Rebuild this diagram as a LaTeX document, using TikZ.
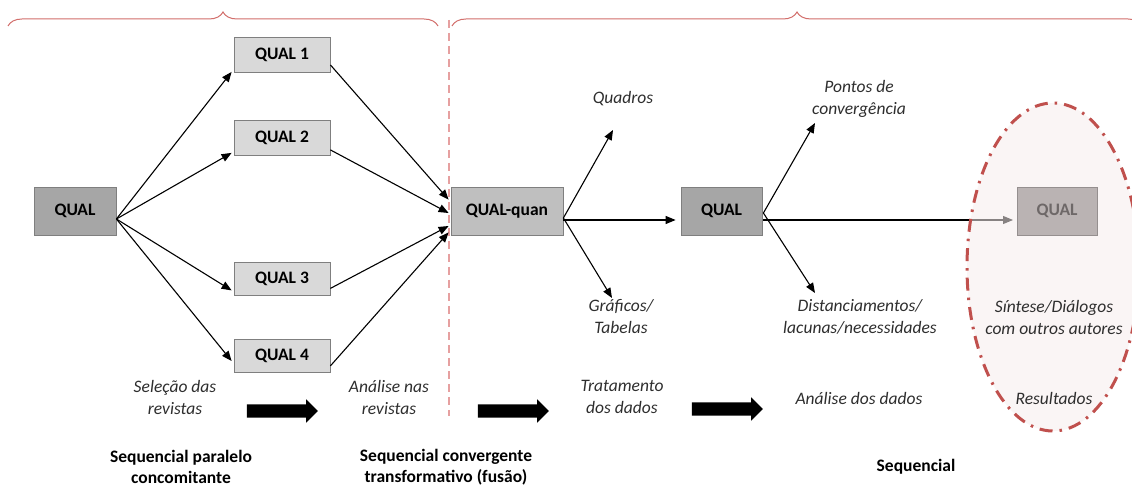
\documentclass[tikz,border=0pt]{standalone}
\usepackage{fontspec}
\setmainfont{Carlito}
\usetikzlibrary{arrows.meta,shapes.arrows,shapes.geometric,decorations.pathreplacing,calc}
\definecolor{boxline}{HTML}{7F7F7F}
\definecolor{darkfill}{HTML}{A6A6A6}
\definecolor{lightfill}{HTML}{D9D9D9}
\definecolor{midfill}{HTML}{BFBFBF}
\definecolor{fadefill}{HTML}{BAB3B3}
\definecolor{fadetext}{HTML}{6E6868}
\definecolor{bracered}{HTML}{D26E6B}
\definecolor{dashred}{HTML}{E6A0A0}
\definecolor{ellred}{HTML}{C0504D}
\definecolor{ellfill}{HTML}{F7EEEE}
\definecolor{itgray}{HTML}{2E2E2E}
\begin{document}
\begin{tikzpicture}[x=1pt,y=-1pt,
  qbox/.style={draw=boxline, line width=0.8pt, inner sep=0pt, font=\fontsize{17.5}{22}\selectfont\bfseries, text=black},
  itlabel/.style={align=center, text=itgray, font=\fontsize{17.5}{22}\selectfont\itshape, inner sep=0pt},
  bdlabel/.style={align=center, text=black, font=\fontsize{17.5}{21.5}\selectfont\bfseries, inner sep=0pt},
  conn/.style={draw=black, line width=1.1pt, -{Triangle[length=10pt,width=8pt]}},
  blockarrow/.style={single arrow, fill=black, draw=none, inner sep=6.5pt, minimum height=71pt, single arrow head extend=5pt},
  bracestyle/.style={draw=bracered, line width=1pt, decorate, decoration={brace, amplitude=14pt}},
]
\useasboundingbox (0,0) rectangle (1132,486);
\fill[white] (0,0) rectangle (1132,486);

% braces and divider
\draw[bracestyle] (8,26) -- (438,26);
\draw[bracestyle] (452,26) -- (1142,26);
\coordinate (dtop) at (449,20);
\coordinate (dbot) at (449,416);
\draw[dashred, line width=1.1pt, dash pattern=on 8pt off 5pt] (dtop) -- (dbot);

% boxes
\node[qbox, fill=darkfill, minimum width=82pt, minimum height=48pt] (qa) at (75,211) {QUAL};
\node[qbox, fill=lightfill, minimum width=96pt, minimum height=35pt] (q1) at (282,55) {QUAL 1};
\node[qbox, fill=lightfill, minimum width=96pt, minimum height=35pt] (q2) at (282,138) {QUAL 2};
\node[qbox, fill=lightfill, minimum width=96pt, minimum height=33pt] (q3) at (282,278.5) {QUAL 3};
\node[qbox, fill=lightfill, minimum width=96pt, minimum height=33pt] (q4) at (282,356) {QUAL 4};
\node[qbox, fill=midfill, minimum width=112pt, minimum height=48pt] (qq) at (507,211) {QUAL-quan};
\node[qbox, fill=darkfill, minimum width=81pt, minimum height=48pt] (qm) at (721.5,211) {QUAL};

% connectors left part
\draw[conn] ($(qa.east)+(0,8)$) -- ($(q1.south west)+(-2,-1)$);
\draw[conn] ($(qa.east)+(0,8)$) -- ($(q2.south west)+(-2,-3)$);
\draw[conn] ($(qa.east)+(0,8)$) -- ($(q3.south west)+(-2,-5)$);
\draw[conn] ($(qa.east)+(0,8)$) -- ($(q4.west)+(-2,5)$);
\draw[conn] ($(q1.south east)+(0,-8)$) -- ($(qq.north west)+(-2,13)$);
\draw[conn] ($(q2.south east)+(0,-6)$) -- ($(qq.west)+(-2,2)$);
\draw[conn] ($(q3.south east)+(0,-7)$) -- ($(qq.west)+(-2,15)$);
\draw[conn] ($(q4.south east)+(0,-7)$) -- ($(qq.south west)+(-2,-3)$);

% right part connectors
\coordinate (tquad) at (613,130);
\coordinate (tgraf) at (612,298);
\coordinate (tpont) at (815,123);
\coordinate (tdist) at (815,293);
\draw[conn] ($(qq.east)+(0,7)$) -- (tquad);
\draw[conn] ($(qq.east)+(0,7)$) -- (tgraf);
\draw[conn] ($(qq.east)+(0,9)$) -- ($(qm.west)+(-5,9)$);
\draw[conn] ($(qm.east)+(1,2)$) -- (tpont);
\draw[conn] ($(qm.east)+(1,2)$) -- (tdist);
\coordinate (qrw) at (1013,220);
\draw[conn] ($(qm.east)+(1,9)$) -- (qrw);

% ellipse
\node[ellipse, draw=ellred, line width=3pt, fill=ellfill, fill opacity=0.55, draw opacity=1,
  dash pattern=on 13pt off 7pt on 2.5pt off 7pt, minimum width=172pt, minimum height=328pt, inner sep=0pt] (ell) at (1053,267) {};
\node[qbox, fill=fadefill, draw=fadefill!80!black, text=fadetext, minimum width=80pt, minimum height=48pt] (qr) at (1057,211) {QUAL};

% italic labels
\node[itlabel] (lquad) at (623,99) {Quadros};
\node[itlabel] (lpont) at (859,98.5) {Pontos de\\convergência};
\node[itlabel] (lgraf) at (621,317) {Gráficos/\\Tabelas};
\node[itlabel] (ldist) at (860,317) {Distanciamentos/\\lacunas/necessidades};
\node[itlabel] (lsint) at (1054,317) {Síntese/Diálogos\\com outros autores};
\node[itlabel] (lsel) at (175,397) {Seleção das\\revistas};
\node[itlabel] (lana) at (389,397) {Análise nas\\revistas};
\node[itlabel] (ltrat) at (622,397) {Tratamento\\dos dados};
\node[itlabel] (ladd) at (859,398) {Análise dos dados};
\node[itlabel] (lres) at (1054,398) {Resultados};

% block arrows
\node[blockarrow] (ba1) at (279,411) {};
\node[blockarrow] (ba2) at (510,411) {};
\node[blockarrow] (ba3) at (724,409) {};

% bold labels
\node[bdlabel] (bseq1) at (181,467) {Sequencial paralelo\\concomitante};
\node[bdlabel] (bseq2) at (446,467) {Sequencial convergente\\transformativo (fusão)};
\node[bdlabel] (bseq3) at (916,467) {Sequencial};
\end{tikzpicture}
\end{document}
